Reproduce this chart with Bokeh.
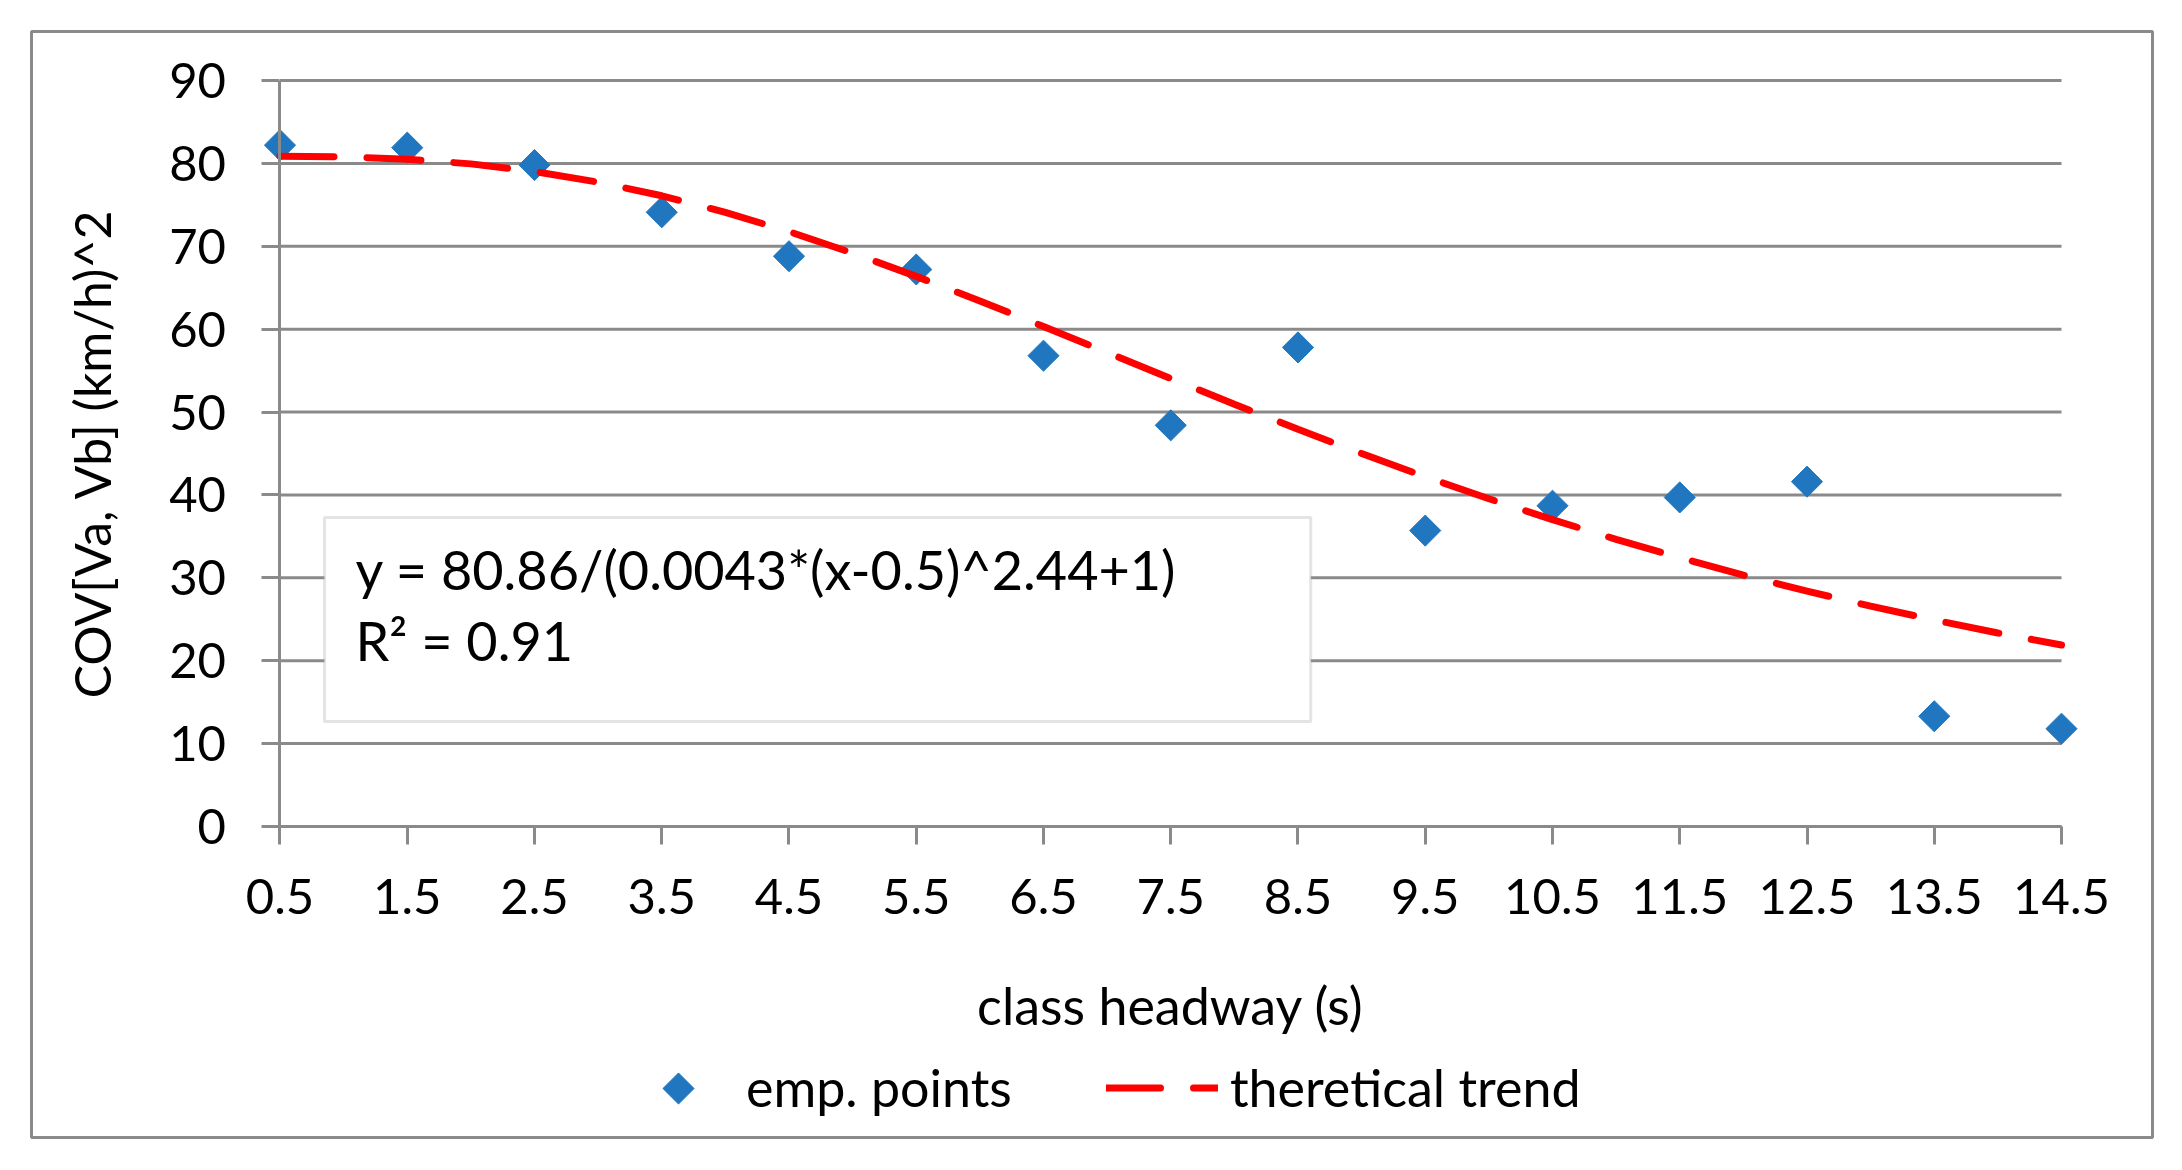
import math
from bokeh.plotting import figure
from bokeh.models import (Range1d, FixedTicker, Legend, LegendItem, BoxAnnotation,
                          Label, ColumnDataSource)
from bokeh.embed import file_html
from bokeh.resources import INLINE

# ---------------- data ----------------
headway = [0.5, 1.5, 2.5, 3.5, 4.5, 5.5, 6.5, 7.5, 8.5, 9.5, 10.5, 11.5, 12.5, 13.5, 14.5]
cov_emp = [82.2, 81.9, 79.8, 74.1, 68.8, 67.2, 56.8, 48.4, 57.8, 35.7, 38.7, 39.7, 41.6, 13.3, 11.8]

trend_x = [0.5, 1.0, 1.5, 2.0, 2.5, 3.0, 3.5, 4.0, 4.5, 5.0, 5.5, 6.0, 6.5, 7.0, 7.5,
           8.0, 8.5, 9.0, 9.5, 10.0, 10.5, 11.0, 11.5, 12.0, 12.5, 13.0, 13.5, 14.0, 14.5]
trend_y = [80.86, 80.80, 80.51, 79.94, 79.02, 77.73, 76.09, 74.09, 71.77, 69.18, 66.37,
           63.40, 60.32, 57.19, 54.05, 50.95, 47.93, 45.00, 42.20, 39.54, 37.02, 34.65,
           32.42, 30.33, 28.39, 26.59, 24.91, 23.35, 21.89]

x_ticks = [0.5, 1.5, 2.5, 3.5, 4.5, 5.5, 6.5, 7.5, 8.5, 9.5, 10.5, 11.5, 12.5, 13.5, 14.5]
y_ticks = [0, 10, 20, 30, 40, 50, 60, 70, 80, 90]

x_title = "class headway (s)"
y_title = "COV[Va, Vb] (km/h)^2"
eq_text = "y = 80.86/(0.0043*(x-0.5)^2.44+1)"
r2_text = "R\u00b2 = 0.91"
series_names = ["emp. points", "theretical trend"]

# ---------------- style / layout ----------------
FONT = "Lato"
GRAY = "#8a8a8a"
BLUE = "#2077BF"
RED = "#FF0000"

W, H = 2174, 1162
B_LEFT, B_TOP, B_RIGHT, B_BOTTOM = 31, 31, 22, 25
X_START, X_END = -1.4528, 15.2151
Y_START, Y_END = -37.52, 95.911

p = figure(width=W, height=H, output_backend="svg", toolbar_location=None, tools="",
           x_range=Range1d(X_START, X_END), y_range=Range1d(Y_START, Y_END),
           min_border_left=B_LEFT, min_border_top=B_TOP,
           min_border_right=B_RIGHT, min_border_bottom=B_BOTTOM)
p.background_fill_color = "white"
p.border_fill_color = "white"
p.outline_line_color = GRAY
p.outline_line_width = 3
p.xgrid.visible = False
p.ygrid.visible = False

# grid lines (horizontal) limited to the data area
grid_src = ColumnDataSource(dict(x0=[x_ticks[0]] * len(y_ticks), x1=[x_ticks[-1]] * len(y_ticks), y=y_ticks))
p.segment(x0="x0", x1="x1", y0="y", y1="y", source=grid_src, line_color=GRAY, line_width=3)

# axes at fixed data positions
for ax in (p.xaxis[0], p.yaxis[0]):
    ax.axis_line_color = GRAY
    ax.axis_line_width = 3
    ax.major_tick_line_color = GRAY
    ax.major_tick_line_width = 3
    ax.major_tick_in = 0
    ax.major_tick_out = 18
    ax.minor_tick_line_color = None
    ax.major_label_text_font = FONT
    ax.major_label_text_font_size = "49px"
    ax.major_label_text_color = "black"
    ax.axis_label_text_font = FONT
    ax.axis_label_text_font_style = "normal"
    ax.axis_label_text_color = "black"

p.xaxis.axis_label_text_font_size = "52px"
p.yaxis.axis_label_text_font_size = "50px"
p.xaxis.fixed_location = 0
p.yaxis.fixed_location = 0.5
p.xaxis.bounds = (x_ticks[0], x_ticks[-1])
p.yaxis.bounds = (y_ticks[0], y_ticks[-1])
p.xaxis.ticker = FixedTicker(ticks=x_ticks)
p.yaxis.ticker = FixedTicker(ticks=y_ticks)
p.xaxis.major_label_standoff = 35
p.yaxis.major_label_standoff = 36
p.xaxis.axis_label = x_title
p.yaxis.axis_label = y_title
p.xaxis.axis_label_standoff = 56
p.yaxis.axis_label_standoff = 44

# equation text box
box = BoxAnnotation(left=0.85, right=8.6, bottom=12.67, top=37.28,
                    fill_color="white", fill_alpha=1.0, line_color="#a6a6a6", line_width=3)
p.add_layout(box)
p.add_layout(Label(x=1.0933, y=31.0, text=eq_text, text_font=FONT, text_font_size="54px",
                   text_baseline="alphabetic", text_color="black"))
p.add_layout(Label(x=1.0933, y=22.4, text=r2_text, text_font=FONT, text_font_size="54px",
                   text_baseline="alphabetic", text_color="black"))

# data
r_pts = p.scatter(headway, cov_emp, marker="square", angle=math.pi / 4, size=22,
                  fill_color=BLUE, line_color=BLUE, line_width=1)
r_line = p.line(trend_x, trend_y, line_color=RED, line_width=7, line_dash="54 33", line_cap="round")

# legend (rotated-square key is drawn separately because legend keys ignore marker angle)
LEG_X, LEG_Y, GLYPH_W, GLYPH_H, LEG_HALF_H = 591, 19, 112, 55, 30
key_proxy = p.scatter(x=[], y=[], marker="square", fill_alpha=0, line_alpha=0)
legend = Legend(items=[LegendItem(label=series_names[0], renderers=[key_proxy]),
                       LegendItem(label=series_names[1], renderers=[r_line])],
                location=(LEG_X, LEG_Y), orientation="horizontal",
                glyph_width=GLYPH_W, glyph_height=GLYPH_H, label_standoff=12, spacing=94,
                padding=0, margin=0, border_line_color=None, background_fill_alpha=0,
                label_text_font=FONT, label_text_font_size="52px", label_text_color="black")
p.add_layout(legend)

frame_w = W - B_LEFT - B_RIGHT
frame_h = H - B_TOP - B_BOTTOM
key_x = X_START + (LEG_X + GLYPH_W / 2) * (X_END - X_START) / frame_w
key_y = Y_START + (LEG_Y + LEG_HALF_H) * (Y_END - Y_START) / frame_h
p.scatter([key_x], [key_y], marker="square", angle=math.pi / 4, size=22,
          fill_color=BLUE, line_color=BLUE, line_width=1)

open("out.html", "w").write(file_html(p, INLINE))
